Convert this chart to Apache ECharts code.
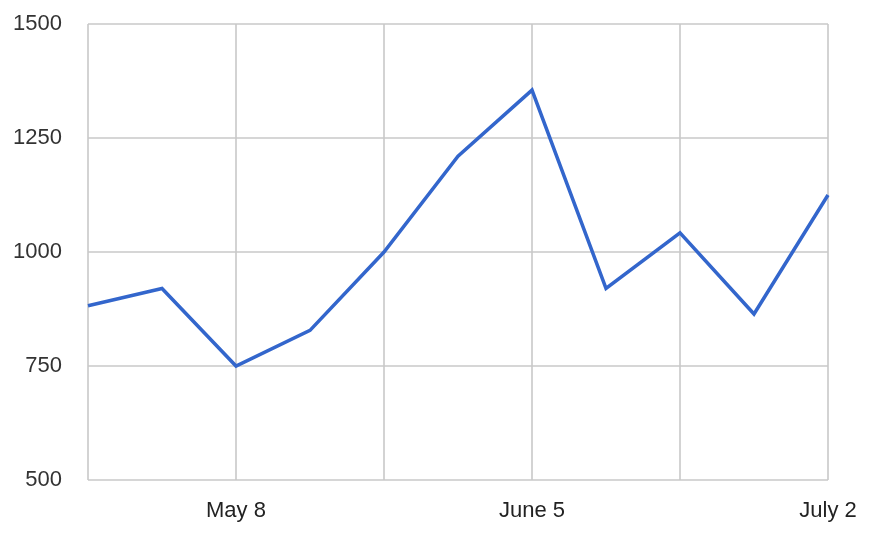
<!DOCTYPE html>
<html><head><meta charset="utf-8">
<script src="https://cdn.jsdelivr.net/npm/echarts@6/dist/echarts.min.js"></script>
<style>html,body{margin:0;padding:0;background:#fff}#c{width:880px;height:542px}</style>
</head><body><div id="c"></div>
<script>
const categories = ['Apr 24','May 1','May 8','May 15','May 22','May 29','June 5','June 12','June 19','June 26','July 2'];
const shownLabels = [2, 6, 10];
const values = [882, 920, 750, 828, 1000, 1210, 1355, 920, 1042, 864, 1125];
const yTicks = { min: 500, max: 1500, interval: 250 };

const chart = echarts.init(document.getElementById('c'));
chart.setOption({
  animation: false,
  grid: { left: 88, right: 52, top: 24, bottom: 62, containLabel: false },
  xAxis: {
    type: 'category', data: categories, boundaryGap: false,
    axisLine: { show: false }, axisTick: { show: false },
    axisLabel: {
      interval: (i) => shownLabels.includes(i),
      color: '#222', fontSize: 22, fontFamily: 'Liberation Sans, Arial, sans-serif', margin: 20
    },
    splitLine: { show: true, interval: 1, lineStyle: { color: '#c8c8c8', width: 1.6 } }
  },
  yAxis: {
    type: 'value', min: yTicks.min, max: yTicks.max, interval: yTicks.interval,
    axisLine: { show: false }, axisTick: { show: false },
    axisLabel: { color: '#333', fontSize: 22, fontFamily: 'Liberation Sans, Arial, sans-serif', margin: 26,
      padding: [3, 0, 0, 0], formatter: (v) => String(v) },
    splitLine: { lineStyle: { color: '#c8c8c8', width: 1.6 } }
  },
  series: [{
    type: 'line', data: values, symbol: 'none',
    lineStyle: { color: '#3366cc', width: 3.5, join: 'miter' }
  }]
});
</script></body></html>
